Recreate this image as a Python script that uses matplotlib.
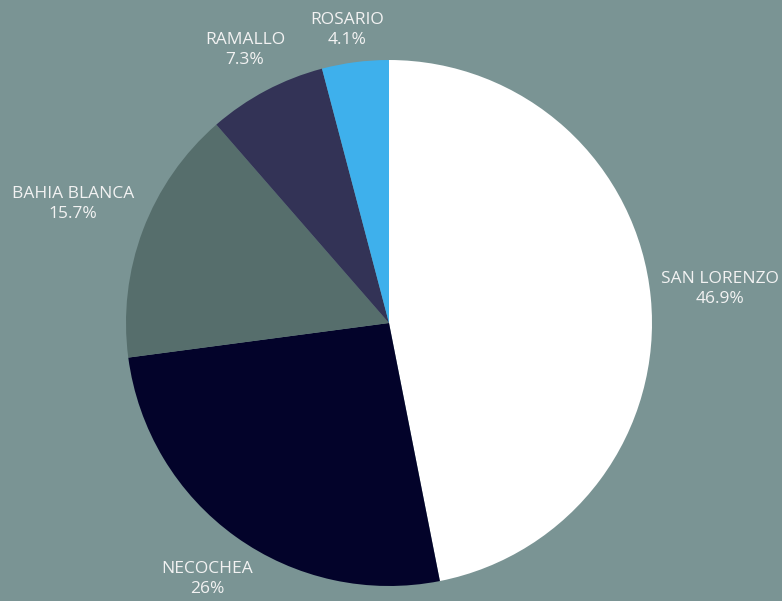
import matplotlib
matplotlib.use("Agg")
import matplotlib.pyplot as plt

categories = ["SAN LORENZO", "NECOCHEA", "BAHIA BLANCA", "RAMALLO", "ROSARIO"]
values = [46.9, 26, 15.7, 7.3, 4.1]
value_labels = ["46.9%", "26%", "15.7%", "7.3%", "4.1%"]
colors = ["#ffffff", "#03032a", "#566e6c", "#333356", "#3eb0ec"]
bg = "#7a9494"

W, H = 782, 601
fig = plt.figure(figsize=(W / 100, H / 100), dpi=100, facecolor=bg)
ax = fig.add_axes([0, 0, 1, 1])
ax.set_facecolor(bg)
cx, cy, r = 389, 323, 263

ax.pie(values, colors=colors, startangle=90, counterclock=False,
       radius=1, center=(0, 0), wedgeprops=dict(linewidth=0))
ax.set_xlim(-cx / r, (W - cx) / r)
ax.set_ylim(-(H - cy) / r, cy / r)
ax.set_aspect("equal", adjustable="box")
ax.axis("off")

# label anchor positions (pixel centers)
label_pos = [(720, 289), (207, 579), (73, 204), (245, 50), (347, 30)]
for cat, vl, (px, py) in zip(categories, value_labels, label_pos):
    fig.text(px / W, 1 - py / H, f"{cat}\n{vl}", ha="center", va="center",
             color="#f2f2f2", fontsize=12.5, family="Open Sans", linespacing=1.4)

fig.savefig("out.png", dpi=100, facecolor=bg)
